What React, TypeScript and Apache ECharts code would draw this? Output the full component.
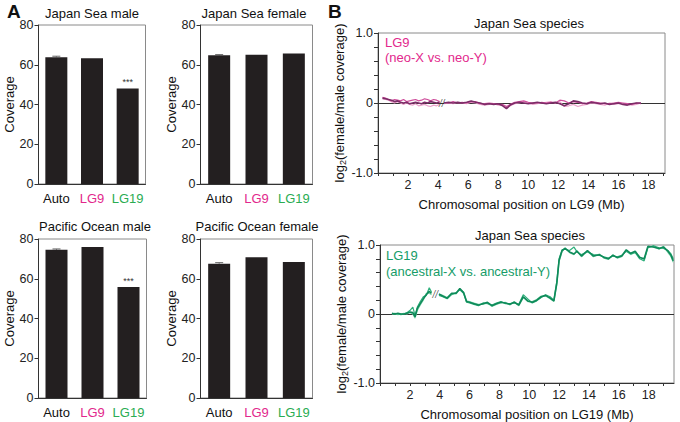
import React, { useEffect, useRef } from "react";
import * as echarts from "echarts";

const CATEGORIES = ["Auto", "LG9", "LG19"];
const JS_MALE = [63.8, 63.3, 48.0];
const JS_MALE_ERR = [0.5, 0, 0];
const JS_FEMALE = [64.8, 65.0, 65.6];
const JS_FEMALE_ERR = [0.3, 0, 0];
const PO_MALE = [74.6, 76.0, 55.8];
const PO_MALE_ERR = [0.4, 0, 0];
const PO_FEMALE = [67.6, 70.8, 68.4];
const PO_FEMALE_ERR = [0.5, 0, 0];

const BAR_TITLES = ["Japan Sea male", "Japan Sea female", "Pacific Ocean male", "Pacific Ocean female"];

// LG9 coverage ratio (log2 female/male), three replicate traces, two segments (axis break)
const LG9_X1 = [0.3, 0.5, 0.7, 0.9, 1.1, 1.3, 1.5, 1.7, 1.9, 2.1, 2.3, 2.5, 2.7, 2.9, 3.1, 3.3, 3.5, 3.7, 3.9, 4.1];
const LG9_A1 = [0.07, 0.06, 0.05, 0.04, 0.02, 0.03, 0.01, 0.0, 0.01, -0.01, 0.0, 0.01, 0.0, -0.01, 0.01, 0.0, 0.02, 0.01, 0.0, 0.01];
const LG9_B1 = [0.08, 0.07, 0.05, 0.03, 0.05, 0.04, 0.03, 0.05, 0.02, 0.03, 0.04, 0.05, 0.03, 0.04, 0.06, 0.05, 0.03, 0.05, 0.04, 0.02];
const LG9_C1 = [0.06, 0.05, 0.04, 0.02, 0.0, 0.02, 0.0, -0.02, 0.0, -0.02, -0.03, -0.01, -0.04, -0.03, -0.02, -0.04, -0.05, -0.03, -0.04, -0.02];
const LG9_X2 = [4.4, 4.7, 5.0, 5.3, 5.6, 5.9, 6.2, 6.5, 6.8, 7.1, 7.4, 7.7, 8.0, 8.3, 8.55, 8.8, 9.1, 9.4, 9.7, 10.0, 10.3, 10.6, 10.9, 11.2, 11.5, 11.8, 12.1, 12.4, 12.7, 13.0, 13.3, 13.6, 13.9, 14.2, 14.5, 14.8, 15.1, 15.4, 15.7, 16.0, 16.3, 16.6, 16.9, 17.2, 17.5];
const LG9_A2 = [0.0, 0.01, 0.0, 0.01, 0.0, 0.01, 0.03, 0.01, 0.0, -0.02, -0.01, -0.02, -0.01, -0.04, -0.08, -0.03, 0.0, 0.01, 0.0, -0.01, 0.0, 0.01, 0.0, -0.01, 0.0, 0.01, -0.01, -0.04, -0.01, 0.03, 0.02, 0.0, -0.01, 0.01, 0.0, -0.01, 0.0, -0.02, -0.01, 0.0, -0.02, -0.03, -0.01, 0.0, 0.0];
const LG9_B2 = [0.01, 0.0, 0.02, 0.0, 0.01, 0.0, 0.02, 0.02, -0.01, -0.01, 0.0, -0.01, -0.02, -0.02, -0.05, -0.02, 0.01, 0.02, 0.03, 0.01, 0.0, 0.0, 0.01, 0.0, 0.01, 0.0, 0.04, 0.03, 0.0, 0.02, 0.01, -0.01, 0.0, 0.02, 0.01, 0.0, -0.01, -0.01, 0.0, 0.01, 0.0, -0.01, -0.02, 0.0, -0.01];
const LG9_C2 = [-0.01, 0.0, -0.01, 0.01, 0.0, -0.01, 0.01, 0.0, -0.02, -0.03, -0.02, -0.01, -0.03, -0.03, -0.06, -0.04, -0.01, 0.0, 0.02, 0.0, -0.02, -0.01, 0.0, 0.01, 0.02, 0.0, 0.02, -0.05, -0.04, -0.02, -0.05, -0.03, -0.02, 0.0, -0.01, -0.02, -0.03, 0.0, -0.02, -0.01, -0.01, -0.02, -0.03, -0.02, 0.0];

// LG19
const LG19_X1 = [0.8, 1.0, 1.2, 1.4, 1.6, 1.8, 2.0, 2.2, 2.35, 2.5, 2.7, 2.9, 3.1, 3.3, 3.45];
const LG19_A1 = [0.01, 0.0, 0.01, 0.0, 0.0, 0.01, 0.03, 0.02, -0.04, 0.08, 0.15, 0.22, 0.28, 0.33, 0.30];
const LG19_B1 = [0.0, 0.01, 0.0, -0.01, 0.0, 0.02, 0.05, 0.10, -0.02, 0.10, 0.18, 0.25, 0.27, 0.38, 0.32];
const LG19_C1 = [0.0, 0.0, -0.01, 0.0, 0.01, 0.0, 0.02, 0.0, -0.06, 0.05, 0.13, 0.2, 0.3, 0.3, 0.28];
const LG19_X2 = [3.95, 4.2, 4.5, 4.8, 5.1, 5.35, 5.6, 5.8, 6.0, 6.3, 6.6, 6.9, 7.2, 7.5, 7.8, 8.1, 8.4, 8.7, 9.0, 9.3, 9.6, 9.9, 10.2, 10.5, 10.8, 11.1, 11.4, 11.65, 11.85, 12.0, 12.2, 12.4, 12.7, 13.0, 13.2, 13.5, 13.9, 14.3, 14.7, 15.0, 15.3, 15.6, 15.9, 16.2, 16.5, 16.8, 17.1, 17.4, 17.7, 17.95, 18.3, 18.7, 19.0, 19.3, 19.5, 19.65];
const LG19_A2 = [0.29, 0.26, 0.23, 0.30, 0.30, 0.37, 0.31, 0.18, 0.17, 0.15, 0.13, 0.15, 0.17, 0.12, 0.15, 0.17, 0.16, 0.14, 0.17, 0.13, 0.25, 0.19, 0.17, 0.20, 0.25, 0.27, 0.23, 0.19, 0.45, 0.78, 0.92, 0.95, 0.90, 0.87, 0.91, 0.84, 0.92, 0.84, 0.86, 0.82, 0.80, 0.85, 0.82, 0.84, 0.93, 0.88, 0.91, 0.82, 0.80, 0.98, 0.97, 0.95, 0.97, 0.91, 0.85, 0.77];
const LG19_B2 = [0.27, 0.25, 0.22, 0.28, 0.31, 0.35, 0.30, 0.17, 0.16, 0.14, 0.12, 0.16, 0.15, 0.13, 0.16, 0.18, 0.15, 0.15, 0.16, 0.14, 0.28, 0.22, 0.16, 0.19, 0.24, 0.28, 0.25, 0.20, 0.48, 0.80, 0.93, 0.94, 0.92, 0.97, 0.90, 0.86, 0.90, 0.86, 0.85, 0.83, 0.81, 0.84, 0.83, 0.85, 0.91, 0.87, 0.89, 0.80, 0.77, 0.96, 0.99, 0.96, 0.95, 0.92, 0.87, 0.80];
const LG19_C2 = [0.28, 0.27, 0.24, 0.29, 0.29, 0.36, 0.32, 0.19, 0.18, 0.16, 0.14, 0.14, 0.16, 0.11, 0.14, 0.16, 0.17, 0.13, 0.18, 0.12, 0.24, 0.18, 0.18, 0.21, 0.26, 0.26, 0.22, 0.18, 0.43, 0.76, 0.90, 0.96, 0.89, 0.86, 0.92, 0.83, 0.91, 0.83, 0.87, 0.81, 0.79, 0.86, 0.81, 0.83, 0.92, 0.86, 0.90, 0.83, 0.79, 0.97, 0.98, 0.94, 0.98, 0.89, 0.83, 0.75];

const LG9_BREAK = [4.25, 0.0];
const LG19_BREAK = [3.7, 0.28];

const MAG = "#e2288c";
const GRN = "#2aac52";
const GRN_B = "#169c68";
const FONT = "'Liberation Sans', Arial, Helvetica, sans-serif";

const zip = (xs: number[], ys: number[]) => xs.map((x, i) => [x, ys[i]]);

export default function App() {
  const ref = useRef<HTMLDivElement>(null);
  useEffect(() => {
    if (!ref.current) return;
    const chart = echarts.init(ref.current, undefined, { renderer: "svg" });

    const barGrids = [
      { left: 38.5, top: 25, width: 107, height: 159 },
      { left: 200.5, top: 25, width: 112, height: 159 },
      { left: 38.5, top: 239, width: 108, height: 159 },
      { left: 200.5, top: 239, width: 112, height: 159 },
    ];
    const lineGrids = [
      { left: 378, top: 33, width: 287, height: 140 },
      { left: 380, top: 245, width: 294, height: 140 },
    ];
    const grids = [...barGrids, ...lineGrids].map((g) => ({
      ...g,
      show: true,
      borderColor: "#8a8a8a",
      borderWidth: 1,
      backgroundColor: "transparent",
      containLabel: false,
    }));

    const barVals = [JS_MALE, JS_FEMALE, PO_MALE, PO_FEMALE];
    const barErrs = [JS_MALE_ERR, JS_FEMALE_ERR, PO_MALE_ERR, PO_FEMALE_ERR];
    const starred = [true, false, true, false];

    const xAxes: any[] = [];
    const yAxes: any[] = [];
    const series: any[] = [];

    for (let i = 0; i < 4; i++) {
      xAxes.push({
        type: "category",
        gridIndex: i,
        data: CATEGORIES,
        axisTick: { show: false },
        axisLine: { lineStyle: { color: "#333", width: 1 } },
        axisLabel: {
          interval: 0,
          margin: 8,
          formatter: (v: string) => `{${v === "Auto" ? "a" : v === "LG9" ? "m" : "g"}|${v}}`,
          rich: {
            a: { color: "#111", fontSize: 13, fontFamily: FONT },
            m: { color: MAG, fontSize: 13, fontFamily: FONT },
            g: { color: GRN, fontSize: 13, fontFamily: FONT },
          },
        },
      });
      yAxes.push({
        type: "value",
        gridIndex: i,
        min: 0,
        max: 80,
        interval: 20,
        axisLine: { show: true, lineStyle: { color: "#333" } },
        axisTick: { show: true, length: 4, lineStyle: { color: "#333" } },
        axisLabel: { fontSize: 12.5, color: "#222", margin: 5, fontFamily: FONT },
        splitLine: { show: false },
        name: "Coverage",
        nameLocation: "middle",
        nameGap: 21,
        nameTextStyle: { fontSize: 13, color: "#111", fontFamily: FONT },
      });
      series.push({
        type: "bar",
        xAxisIndex: i,
        yAxisIndex: i,
        barWidth: 22,
        itemStyle: { color: "#231f20" },
        data: barVals[i].map((v, k) =>
          starred[i] && k === 2
            ? {
                value: v,
                label: { show: true, position: "top", formatter: "***", fontSize: 9, color: "#333", distance: 2 },
              }
            : v
        ),
      });
      series.push({
        type: "custom",
        xAxisIndex: i,
        yAxisIndex: i,
        data: barVals[i].map((v, k) => [k, v, barErrs[i][k]]).filter((d) => d[2] > 0),
        renderItem: (params: any, api: any) => {
          const k = api.value(0);
          const v = api.value(1);
          const e = api.value(2);
          const p0 = api.coord([k, v]);
          const p1 = api.coord([k, v + e]);
          return {
            type: "group",
            children: [
              { type: "line", shape: { x1: p0[0], y1: p0[1], x2: p1[0], y2: p1[1] }, style: { stroke: "#666", lineWidth: 1 } },
              { type: "line", shape: { x1: p1[0] - 4, y1: p1[1], x2: p1[0] + 4, y2: p1[1] }, style: { stroke: "#666", lineWidth: 1 } },
            ],
          };
        },
      });
    }

    const lineDefs = [
      {
        max: 19.1,
        name: "Chromosomal position on LG9 (Mb)",
        segs: [
          [LG9_X1, [LG9_C1, LG9_B1, LG9_A1]],
          [LG9_X2, [LG9_C2, LG9_B2, LG9_A2]],
        ],
        colors: ["#eba3cc", "#cf4f9c", "#7d2c68"],
        brk: LG9_BREAK,
      },
      {
        max: 19.7,
        name: "Chromosomal position on LG19 (Mb)",
        segs: [
          [LG19_X1, [LG19_C1, LG19_B1, LG19_A1]],
          [LG19_X2, [LG19_C2, LG19_B2, LG19_A2]],
        ],
        colors: ["#7fd4ab", "#2fb07c", "#0f8a5a"],
        brk: LG19_BREAK,
      },
    ];

    lineDefs.forEach((d, j) => {
      const gi = 4 + j;
      xAxes.push({
        type: "value",
        gridIndex: gi,
        min: 0,
        max: d.max,
        interval: 1,
        axisLine: { show: true, onZero: false, lineStyle: { color: "#333" } },
        axisTick: { show: true, length: 3, lineStyle: { color: "#333" } },
        axisLabel: {
          fontSize: 12.5,
          color: "#222",
          margin: 5,
          fontFamily: FONT,
          showMaxLabel: false,
          formatter: (v: number) => {
            const r = Math.round(v);
            return Math.abs(v - r) < 1e-6 && r > 0 && r <= 18 && r % 2 === 0 ? String(r) : "";
          },
        },
        splitLine: { show: false },
        name: d.name,
        nameLocation: "middle",
        nameGap: 25,
        nameTextStyle: { fontSize: 13, color: "#111", fontFamily: FONT },
      });
      yAxes.push({
        type: "value",
        gridIndex: gi,
        min: -1,
        max: 1,
        interval: 0.2,
        axisLine: { show: true, onZero: false, lineStyle: { color: "#333" } },
        axisTick: { show: true, length: 4, lineStyle: { color: "#333" } },
        axisLabel: {
          fontSize: 12.5,
          color: "#222",
          margin: 5,
          fontFamily: FONT,
          formatter: (v: number) => (Math.abs(v - 1) < 1e-6 ? "1.0" : Math.abs(v) < 1e-6 ? "0" : Math.abs(v + 1) < 1e-6 ? "-1.0" : ""),
        },
        splitLine: { show: false },
        name: "{n|log}{s|2}{n|(female/male coverage)}",
        nameLocation: "middle",
        nameGap: 31,
        nameTextStyle: {
          fontFamily: FONT,
          rich: {
            n: { fontSize: 13, color: "#111", fontFamily: FONT, lineHeight: 16 },
            s: { fontSize: 9, color: "#111", fontFamily: FONT, lineHeight: 16, verticalAlign: "bottom", padding: [6, 0, 0, 0] },
          },
        },
      });
      let first = true;
      d.segs.forEach((seg: any) => {
        const xs = seg[0] as number[];
        (seg[1] as number[][]).forEach((ys, r) => {
          const s: any = {
            type: "line",
            xAxisIndex: gi,
            yAxisIndex: gi,
            data: zip(xs, ys),
            showSymbol: false,
            symbol: "none",
            lineStyle: { color: d.colors[r], width: r === 2 ? 1.6 : 1.2 },
            z: 3 + r,
          };
          if (first) {
            s.markLine = {
              silent: true,
              symbol: "none",
              label: { show: false },
              lineStyle: { color: "#333", width: 1, type: "solid" },
              data: [{ yAxis: 0 }],
              z: 2,
            };
            first = false;
          }
          series.push(s);
        });
      });
      series.push({
        type: "scatter",
        xAxisIndex: gi,
        yAxisIndex: gi,
        symbolSize: 0,
        z: 10,
        data: [d.brk],
        label: { show: true, position: "inside", formatter: "//", fontSize: 10, color: "#333", fontStyle: "italic", fontFamily: FONT },
      });
    });

    const titlePos = [
      [92, 13],
      [254, 13],
      [95, 226],
      [257, 226],
    ];
    const graphic: any[] = [
      { type: "text", left: 7, top: 2, style: { text: "A", fontSize: 19, fontWeight: "bold", fill: "#111", fontFamily: FONT } },
      { type: "text", left: 328, top: 2, style: { text: "B", fontSize: 19, fontWeight: "bold", fill: "#111", fontFamily: FONT } },
      ...BAR_TITLES.map((t, i) => ({
        type: "text",
        x: titlePos[i][0],
        y: titlePos[i][1],
        style: { text: t, fontSize: 13, fill: "#111", fontFamily: FONT, align: "center", verticalAlign: "middle" },
      })),
      { type: "text", x: 529, y: 23, style: { text: "Japan Sea species", fontSize: 13, fill: "#111", fontFamily: FONT, align: "center", verticalAlign: "middle" } },
      { type: "text", x: 530, y: 235, style: { text: "Japan Sea species", fontSize: 13, fill: "#111", fontFamily: FONT, align: "center", verticalAlign: "middle" } },
      { type: "text", x: 385, y: 42, style: { text: "LG9", fontSize: 13, fill: MAG, fontFamily: FONT, verticalAlign: "middle" } },
      { type: "text", x: 385, y: 57, style: { text: "(neo-X vs. neo-Y)", fontSize: 13, fill: MAG, fontFamily: FONT, verticalAlign: "middle" } },
      { type: "text", x: 386, y: 255, style: { text: "LG19", fontSize: 13, fill: GRN_B, fontFamily: FONT, verticalAlign: "middle" } },
      { type: "text", x: 386, y: 271, style: { text: "(ancestral-X vs. ancestral-Y)", fontSize: 13, fill: GRN_B, fontFamily: FONT, verticalAlign: "middle" } },
    ];

    chart.setOption({
      animation: false,
      backgroundColor: "#ffffff",
      textStyle: { fontFamily: FONT },
      grid: grids,
      xAxis: xAxes,
      yAxis: yAxes,
      series,
      graphic,
    });
    return () => chart.dispose();
  }, []);
  return <div ref={ref} style={{ position: "fixed", left: 0, top: 0, width: 680, height: 422 }} />;
}
